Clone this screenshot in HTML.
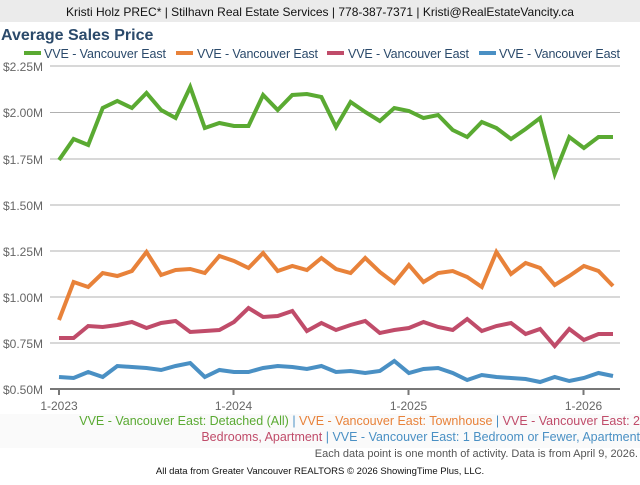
<!DOCTYPE html>
<html><head><meta charset="utf-8"><style>
body{margin:0;width:640px;height:480px;background:#fff;overflow:hidden;font-family:"Liberation Sans",sans-serif}
</style></head><body>
<svg width="640" height="480" xmlns="http://www.w3.org/2000/svg" font-family="Liberation Sans, sans-serif">
<rect x="0" y="0" width="640" height="22" fill="#ebebeb"/>
<text x="320" y="16" font-size="12" text-anchor="middle" fill="#111">Kristi Holz PREC* | Stilhavn Real Estate Services | 778-387-7371 | Kristi@RealEstateVancity.ca</text>
<text x="1" y="40" font-size="16" font-weight="bold" fill="#2b4a6b">Average Sales Price</text>
<g font-size="12.5" fill="#2b4a6b">
<rect x="24" y="51" width="17" height="4" fill="#5aaa32"/><text x="44" y="58" textLength="122">VVE - Vancouver East</text>
<rect x="176" y="51" width="17" height="4" fill="#e8823a"/><text x="197" y="58" textLength="121">VVE - Vancouver East</text>
<rect x="327" y="51" width="17" height="4" fill="#c04c6a"/><text x="348" y="58" textLength="121">VVE - Vancouver East</text>
<rect x="479" y="51" width="17" height="4" fill="#4a90c4"/><text x="499" y="58" textLength="121">VVE - Vancouver East</text>
</g>
<g stroke="#b0b0b0" stroke-width="1">
<line x1="50" y1="66" x2="620" y2="66"/><line x1="50" y1="112.5" x2="620" y2="112.5"/><line x1="50" y1="159" x2="620" y2="159"/><line x1="50" y1="205" x2="620" y2="205"/><line x1="50" y1="251" x2="620" y2="251"/><line x1="50" y1="297" x2="620" y2="297"/><line x1="50" y1="343" x2="620" y2="343"/>
</g>
<line x1="50" y1="389" x2="620" y2="389" stroke="#777" stroke-width="2"/>
<g stroke="#777" stroke-width="2"><line x1="59" y1="389" x2="59" y2="395"/><line x1="233.5" y1="389" x2="233.5" y2="395"/><line x1="408.5" y1="389" x2="408.5" y2="395"/><line x1="583.5" y1="389" x2="583.5" y2="395"/></g>
<g font-size="12" fill="#666" text-anchor="end">
<text x="43" y="71">$2.25M</text><text x="43" y="117">$2.00M</text><text x="43" y="164">$1.75M</text><text x="43" y="210">$1.50M</text><text x="43" y="256">$1.25M</text><text x="43" y="302">$1.00M</text><text x="43" y="348">$0.75M</text><text x="43" y="394">$0.50M</text>
</g>
<g font-size="12" fill="#666" text-anchor="middle">
<text x="59" y="410">1-2023</text><text x="233.5" y="410">1-2024</text><text x="408.5" y="410">1-2025</text><text x="583.5" y="410">1-2026</text>
</g>
<g fill="none" stroke-width="4" stroke-linejoin="miter" stroke-linecap="butt">
<polyline stroke="#5aaa32" points="59,160 73.6,139 88.2,145 102.7,108 117.3,101 131.9,108 146.5,93 161.1,110 175.6,118 190.2,87 204.8,128 219.4,123 234,126 248.5,126 263.1,95 277.7,110 292.3,95 306.9,94 321.4,97 336,127 350.6,102 365.2,112 379.8,121 394.3,108 408.9,111 423.5,118 438.1,115 452.7,130 467.2,137 481.8,122 496.4,128 511,139 525.6,129 540.1,118 554.7,174 569.3,137 583.9,148 598.5,137 613,137"/>
<polyline stroke="#e8823a" points="59,320 73.6,282 88.2,287 102.7,273 117.3,276 131.9,271 146.5,252 161.1,275 175.6,270 190.2,269 204.8,273 219.4,256 234,261 248.5,268 263.1,253 277.7,271 292.3,266 306.9,270 321.4,258 336,269 350.6,273 365.2,258 379.8,272 394.3,283 408.9,265 423.5,282 438.1,273 452.7,271 467.2,277 481.8,287 496.4,252 511,274 525.6,263 540.1,268 554.7,285 569.3,276 583.9,266 598.5,271 613,286"/>
<polyline stroke="#c04c6a" points="59,338 73.6,338 88.2,326 102.7,327 117.3,325 131.9,322 146.5,328 161.1,323 175.6,321 190.2,332 204.8,331 219.4,330 234,322 248.5,308 263.1,317 277.7,316 292.3,311 306.9,331 321.4,323 336,330 350.6,325 365.2,321 379.8,333 394.3,330 408.9,328 423.5,322 438.1,327 452.7,330 467.2,319 481.8,331 496.4,326 511,323 525.6,334 540.1,329 554.7,346 569.3,329 583.9,340 598.5,334 613,334"/>
<polyline stroke="#4a90c4" points="59,377 73.6,378 88.2,372 102.7,377 117.3,366 131.9,367 146.5,368 161.1,370 175.6,366 190.2,363 204.8,377 219.4,370 234,372 248.5,372 263.1,368 277.7,366 292.3,367 306.9,369 321.4,366 336,372 350.6,371 365.2,373 379.8,371 394.3,361 408.9,373 423.5,369 438.1,368 452.7,373 467.2,380 481.8,375 496.4,377 511,378 525.6,379 540.1,382 554.7,377 569.3,381 583.9,378 598.5,373 613,376"/>
</g>
<rect x="0" y="414" width="640" height="34" fill="#fafafa"/>
<g font-size="12.5" text-anchor="end">
<text x="640" y="425"><tspan fill="#5aaa32">VVE - Vancouver East: Detached (All)</tspan><tspan fill="#4a90c4"> | </tspan><tspan fill="#e8823a">VVE - Vancouver East: Townhouse</tspan><tspan fill="#4a90c4"> | </tspan><tspan fill="#c04c6a">VVE - Vancouver East: 2</tspan></text>
<text x="640" y="441"><tspan fill="#c04c6a">Bedrooms, Apartment</tspan><tspan fill="#4a90c4"> | VVE - Vancouver East: 1 Bedroom or Fewer, Apartment</tspan></text>
</g>
<text x="638" y="457" font-size="11" fill="#555" text-anchor="end">Each data point is one month of activity. Data is from April 9, 2026.</text>
<text x="320" y="474" font-size="9.5" fill="#111" text-anchor="middle">All data from Greater Vancouver REALTORS © 2026 ShowingTime Plus, LLC.</text>
</svg>
</body></html>
